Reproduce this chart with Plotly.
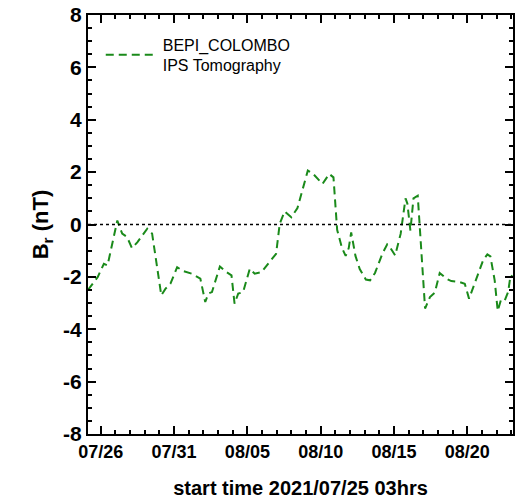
import datetime as dt
import plotly.graph_objects as go

# hours after 2021-07-25 03:00
hours = [0, 16, 26, 32, 48, 56, 64, 72, 81, 97, 105, 120, 127, 135, 146, 156, 170, 184,
         192, 197, 203, 216, 227, 235, 240, 246, 254, 265, 273, 284, 297, 308, 314, 322,
         333, 343, 360, 368, 384, 395, 402, 408, 416, 422, 427, 431, 438, 445, 455, 462,
         470, 482, 490, 494, 503, 512, 520, 523, 528, 533, 540, 552, 560, 568, 576, 587,
         595, 609, 617, 624, 628, 639, 647, 654, 659, 666, 671, 676, 682, 688, 692, 696]
br = [-2.5, -2.0, -1.5, -1.56, 0.15, -0.35, -0.48, -0.9, -0.67, -0.16, -0.35, -2.7, -2.45,
      -2.26, -1.63, -1.78, -1.88, -2.07, -2.96, -2.64, -2.58, -1.6, -1.82, -1.94, -3.02,
      -2.64, -2.58, -1.69, -1.88, -1.82, -1.44, -1.12, 0.03, 0.5, 0.28, 0.63, 2.06, 1.95,
      1.55, 1.93, 1.8, -0.2, -0.9, -1.2, -0.9, -0.3, -1.2, -1.7, -2.1, -2.13, -1.85, -1.12,
      -0.76, -0.85, -1.18, -0.36, 1.0, 0.8, -0.23, 1.0, 1.1, -3.21, -2.77, -2.6, -1.85,
      -2.07, -2.16, -2.2, -2.26, -2.83, -2.58, -1.88, -1.37, -1.14, -1.22, -2.13, -3.3,
      -2.9, -2.93, -2.58, -1.94, -2.0]
y_tick_vals = [-8, -6, -4, -2, 0, 2, 4, 6, 8]
y_tick_text = ["-8", "-6", "-4", "-2", "0", "2", "4", "6", "8"]
series_name = "BEPI_COLOMBO<br>IPS Tomography"
x_title = "start time 2021/07/25 03hrs"
y_title = "B<sub>r</sub> (nT)"

start = dt.datetime(2021, 7, 25, 3)
times = [start + dt.timedelta(hours=h) for h in hours]
end = start + dt.timedelta(days=29)

FONT = "Liberation Sans, Arial"

fig = go.Figure()
fig.add_trace(go.Scatter(x=times, y=br, mode="lines", name=series_name,
                         line=dict(color="#1a8a1a", width=2, dash="8px,5px")))
fig.add_hline(y=0, line=dict(color="black", width=1.5, dash="dot"))

axis_common = dict(ticks="inside", mirror="allticks", showline=True, linecolor="black",
                   linewidth=2, tickcolor="black", tickwidth=2, ticklen=8, showgrid=False,
                   zeroline=False)

fig.update_xaxes(range=[start, end], tickformat="%m/%d", tick0="2021-07-26",
                 dtick=5 * 86400000,
                 tickfont=dict(family=FONT, size=18, color="black", weight="bold"),
                 minor=dict(dtick=86400000, ticks="inside", ticklen=4, tickwidth=2,
                            tickcolor="black", showgrid=False),
                 title=dict(text=x_title, standoff=20,
                            font=dict(family=FONT, size=20, color="black", weight="bold")),
                 **axis_common)
fig.update_yaxes(range=[-8, 8], tickvals=y_tick_vals, ticktext=y_tick_text,
                 tickfont=dict(family=FONT, size=21, color="black", weight="bold"),
                 minor=dict(dtick=0.5, tick0=0, ticks="inside", ticklen=4, tickwidth=2,
                            tickcolor="black", showgrid=False),
                 title=dict(text=y_title, standoff=8,
                            font=dict(family=FONT, size=22, color="black", weight="bold")),
                 **axis_common)

fig.update_layout(width=518, height=501, margin=dict(l=88, r=3, t=13, b=67),
                  plot_bgcolor="white", paper_bgcolor="white",
                  showlegend=True,
                  legend=dict(x=0.03, y=0.97, xanchor="left", yanchor="top",
                              bgcolor="rgba(0,0,0,0)", itemwidth=52,
                              font=dict(family=FONT, size=16, color="black")))

fig.write_html("out.html")
